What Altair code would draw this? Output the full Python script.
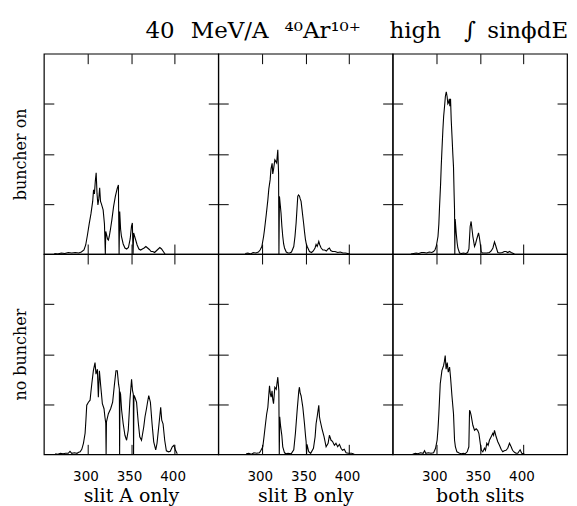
import altair as alt
import pandas as pd

ROWS = ["buncher on", "no buncher"]
COLS = ["slit A only", "slit B only", "both slits"]
X_TICKS = [300, 350, 400]
Y_TICKS = [1, 2, 3]
X_DOMAIN = [250, 450]
Y_DOMAIN = [0, 4]
TITLE = ("40\u2002\u2009MeV/A\u2002\u2009\u2074\u2070Ar\u00b9\u2070\u207a\u2003\u2005high"
         "\u2003\u222b\u2002sin\u03d5dE")

# (energy channel, counts)
on_A = [(262,0.01),(266,0.0),(270,0.02),(274,0.01),(278,0.03),(282,0.02),(286,0.03),(290,0.02),
        (293,0.04),(296,0.08),(298,0.18),(300,0.38),(302,0.6),(304,0.8),(306,1.05),(307,1.28),
        (308,1.2),(309,1.45),(310,1.62),(311,1.2),(312,0.98),(313,1.1),(314,1.32),(315,1.05),
        (316,1.0),(318,0.88),(319.5,0.6),(320.5,0.0),(321,0.45),(322,0.38),(323,0.3),(324,0.28),
        (325,0.35),(326,0.45),(328,0.68),(330,0.95),(332,1.15),(334,1.3),(335.5,1.38),(336.3,0.0),
        (337,0.85),(338,0.5),(339,0.35),(341,0.2),(343,0.12),(345,0.1),(347,0.13),(349,0.3),
        (350.5,0.55),(351.5,0.62),(352.3,0.0),(353,0.42),(355,0.3),(357,0.18),(359,0.1),(361,0.08),
        (363,0.1),(365,0.12),(367,0.15),(369,0.12),(371,0.09),(373,0.05),(375,0.05),(377,0.03),
        (380,0.08),(383,0.13),(385,0.1),(387,0.05),(389,0.0)]

on_B = [(281,0.01),(284,0.02),(287,0.0),(290,0.03),(293,0.02),(296,0.04),(298,0.08),(300,0.15),
        (302,0.35),(303,0.48),(305,0.78),(306.9,1.08),(308,1.3),(309.5,1.48),(310.5,1.7),(311.8,1.81),
        (312.5,1.6),(313.5,1.7),(314.9,1.88),(316,1.85),(317,1.82),(318.3,2.08),(319.2,1.6),(319.6,0.0),
        (320.2,1.15),(321,1.0),(322,0.82),(323,0.55),(324,0.35),(325,0.2),(326,0.12),(328,0.04),
        (330,0.02),(332,0.02),(334,0.04),(336.6,0.15),(338,0.35),(339.3,0.62),(340.3,0.9),(341.2,1.15),
        (342,1.18),(343.1,1.16),(344,1.1),(345,1.05),(346,0.9),(347,0.75),(348,0.6),(348.9,0.45),
        (350,0.29),(351,0.2),(352,0.15),(354.6,0.05),(357,0.03),(359,0.06),(361,0.12),(362.2,0.19),
        (363.5,0.15),(365.3,0.25),(366.5,0.18),(368,0.12),(370,0.08),(372,0.08),(374,0.06),(376,0.1),
        (377.5,0.12),(379,0.07),(381,0.05),(384,0.05),(387,0.03),(390,0.04),(393,0.02),(396,0.02),
        (398.5,0.01),(401,0.0)]

on_both = [(271,0.0),(274,0.01),(277,0.02),(280,0.01),(283,0.03),(286,0.03),(289,0.02),(292,0.04),
           (295,0.03),(297,0.05),(298.5,0.08),(300,0.15),(302,0.35),(303,0.6),(303.8,0.95),(305,1.4),
           (305.7,1.74),(306.6,2.1),(307.6,2.47),(308.5,2.75),(309.5,2.94),(310.5,3.15),(311.5,3.24),
           (312.5,3.14),(313.3,3.0),(314,3.02),(315,3.1),(315.6,2.95),(316.4,3.1),(317.2,2.67),
           (318.3,2.27),(319,2.0),(319.8,1.74),(320.5,1.2),(321,0.88),(321.3,0.0),(321.7,0.7),
           (322.9,0.42),(324,0.22),(324.8,0.12),(326.7,0.02),(329,0.01),(331,0.02),(334,0.01),
           (336,0.03),(337.5,0.1),(338.9,0.55),(340,0.65),(341,0.5),(342,0.35),(343.9,0.15),(345,0.2),
           (346.5,0.3),(348.5,0.42),(349.5,0.33),(350.4,0.22),(351.5,0.05),(353,0.02),(355.3,0.02),
           (358,0.02),(361,0.03),(363,0.06),(365,0.12),(366.8,0.24),(368,0.18),(369,0.12),(370.6,0.03),
           (373,0.02),(376,0.03),(378,0.05),(380,0.05),(382,0.03),(384,0.05),(386,0.03),(389.7,0.0)]

off_A = [(263,0.01),(266,0.0),(269,0.02),(272,0.01),(275,0.02),(278,0.02),(280,0.06),(282,0.02),
         (285,0.03),(288,0.02),(290,0.04),(291.6,0.05),(293.5,0.1),(295.4,0.22),(297.3,0.42),
         (298.3,0.7),(299.2,0.98),(301.1,1.04),(303,1.08),(304,1.25),(305,1.41),(306.8,1.67),
         (308.7,1.83),(309.8,1.6),(311.4,1.7),(312.5,1.14),(313.7,1.67),(315.2,1.37),(317.1,1.01),
         (319,0.91),(320,0.75),(321,0.62),(321.4,0.0),(321.8,0.65),(324,0.81),(326.6,0.91),
         (328.9,1.04),(330.8,1.37),(332.7,1.67),(334.2,1.67),(335.7,1.4),(336.6,1.3),(336.9,0.0),
         (337.3,1.25),(338,1.2),(339.2,0.88),(341,0.61),(343,0.38),(344.9,0.28),(346.8,0.48),
         (348.7,1.08),(350.6,1.5),(351.7,1.27),(352.6,1.2),(352.9,0.0),(353.3,1.18),(354.4,1.14),
         (356.3,1.04),(358.2,0.65),(360,0.35),(362,0.28),(364.6,0.55),(366,0.75),(367.7,0.91),
         (369,1.05),(370.3,1.17),(372.2,1.04),(374.1,0.61),(376,0.25),(378.3,0.09),(379.8,0.22),
         (382.1,0.61),(384,0.94),(385.2,0.68),(386.7,0.61),(388.6,0.28),(390.5,0.07),(393,0.05),
         (395,0.06),(397.3,0.15),(399.2,0.18),(401,0.08),(403,0.01)]

off_B = [(282,0.01),(285,0.02),(288,0.0),(291,0.03),(294,0.02),(297.3,0.03),(299,0.08),(301.1,0.15),
         (302.5,0.35),(304.2,0.61),(305.5,0.8),(306.9,0.94),(307.8,1.15),(308.8,1.37),(309.8,1.2),
         (310.7,1.14),(311.7,1.27),(312.5,1.1),(313.4,1.01),(314.9,1.34),(316.5,1.3),(318.3,1.54),
         (319.5,1.27),(320,0.0),(320.5,0.75),(321.4,0.58),(322.9,0.38),(324,0.15),(326,0.03),
         (328,0.01),(330,0.02),(333.6,0.01),(336.6,0.09),(338.5,0.42),(340.5,0.88),(342.4,1.27),
         (343.1,1.34),(344,1.22),(345,1.17),(347,0.94),(348.9,0.61),(350.2,0.35),(350.8,0.25),
         (351.3,0.0),(351.8,0.2),(353.8,0.05),(356,0.02),(359.2,0.12),(361.1,0.35),(362.2,0.61),
         (363.7,0.78),(365.3,0.98),(366.1,0.75),(366.8,0.68),(369,0.51),(371.4,0.35),(373.7,0.15),
         (376,0.22),(377.5,0.38),(379.4,0.28),(381,0.26),(383.2,0.18),(385,0.22),(387,0.15),
         (389,0.2),(390.8,0.12),(392.5,0.08),(394.5,0.1),(396.6,0.03),(399,0.02),(401,0.02),
         (403,0.02),(406,0.0)]

off_both = [(273,0.0),(276,0.02),(279,0.01),(282,0.03),(285,0.02),(286.6,0.07),(288,0.02),(291,0.03),
            (294,0.02),(297,0.03),(299.2,0.12),(301,0.28),(302,0.5),(303,0.81),(304.6,1.41),
            (306.5,1.67),(308.4,1.77),(309.3,1.85),(310.3,1.97),(311.3,1.7),(312.6,1.83),(313.8,1.64),
            (315.3,1.74),(316.4,1.54),(318,1.17),(319.8,0.81),(321,0.28),(322,0.15),(323.7,0.05),
            (326.7,0.02),(329,0.01),(331,0.02),(333,0.01),(335.5,0.05),(337.4,0.15),(338.2,0.88),
            (339,0.85),(340,0.78),(342,0.58),(343.9,0.48),(345.8,0.51),(347.5,0.48),(348.9,0.42),
            (350.8,0.18),(351.8,0.08),(353.4,0.05),(355.3,0.12),(356.5,0.08),(358,0.22),(359.5,0.18),
            (361,0.28),(363,0.35),(364.9,0.42),(365.8,0.38),(366.8,0.48),(368.7,0.35),(370.6,0.25),
            (372.5,0.18),(374.4,0.1),(376.3,0.05),(378,0.07),(380,0.08),(382,0.12),(384,0.22),
            (385.9,0.15),(387.5,0.08),(389.7,0.04),(391.5,0.02),(393.5,0.02),(396.2,0.09),(398,0.02),
            (401,0.01)]

SPECTRA = [[on_A, on_B, on_both], [off_A, off_B, off_both]]

W, H = 175, 201
SERIF = "DejaVu Serif"
SANS = "DejaVu Sans"
TICK = 10


def panel(points, r, c):
    df = pd.DataFrame(points, columns=["energy", "counts"])
    xs = alt.Scale(domain=X_DOMAIN, nice=False, zero=False)
    ys = alt.Scale(domain=Y_DOMAIN, nice=False)
    bottom_row = r == len(ROWS) - 1
    left_col = c == 0

    xb = dict(orient="bottom", values=X_TICKS, offset=-TICK, tickSize=TICK, domain=False,
              grid=False, labels=bottom_row, tickColor="black", tickWidth=1)
    if bottom_row:
        xb.update(labelFont=SANS, labelFontSize=13.5, labelColor="black", labelPadding=15,
                  labelOffset=-2, titleFont=SERIF, titleFontSize=19, titleFontWeight="normal",
                  titleColor="black", titlePadding=4)
    yl = dict(orient="left", values=Y_TICKS, offset=-TICK, tickSize=TICK, domain=False,
              grid=False, labels=False, tickColor="black", tickWidth=1)
    if left_col:
        yl.update(titleFont=SERIF, titleFontSize=16, titleFontWeight="normal",
                  titleColor="black", titlePadding=15)

    base = alt.Chart(df)
    line = base.mark_line(color="black", strokeWidth=1.1, clip=True).encode(
        x=alt.X("energy:Q", scale=xs, axis=alt.Axis(**xb),
                title=COLS[c] if bottom_row else None),
        y=alt.Y("counts:Q", scale=ys, axis=alt.Axis(**yl),
                title=ROWS[r] if left_col else None),
    )
    mirror = base.mark_line(opacity=0).encode(
        x=alt.X("energy:Q", scale=xs, title=None,
                axis=alt.Axis(orient="top", values=X_TICKS, offset=-TICK, tickSize=TICK,
                              domain=False, grid=False, labels=False,
                              tickColor="black", tickWidth=1)),
        y=alt.Y("counts:Q", scale=ys, title=None,
                axis=alt.Axis(orient="right", values=Y_TICKS, offset=-TICK, tickSize=TICK,
                              domain=False, grid=False, labels=False,
                              tickColor="black", tickWidth=1)),
    )
    return alt.layer(line, mirror).resolve_axis(x="independent", y="independent").properties(
        width=W, height=H)


panels = [panel(SPECTRA[r][c], r, c) for r in range(len(ROWS)) for c in range(len(COLS))]

chart = alt.concat(*panels, columns=3, spacing=0, bounds="flush").properties(
    title=alt.TitleParams(TITLE, anchor="end", font=SERIF, fontSize=23, fontWeight="normal",
                          color="black", offset=10),
    padding={"left": 11, "top": 18, "right": 8, "bottom": 0},
    background="white",
).configure_view(stroke="black", strokeWidth=1.2)

chart.save("out.html", embed_options={"renderer": "svg", "actions": False})
